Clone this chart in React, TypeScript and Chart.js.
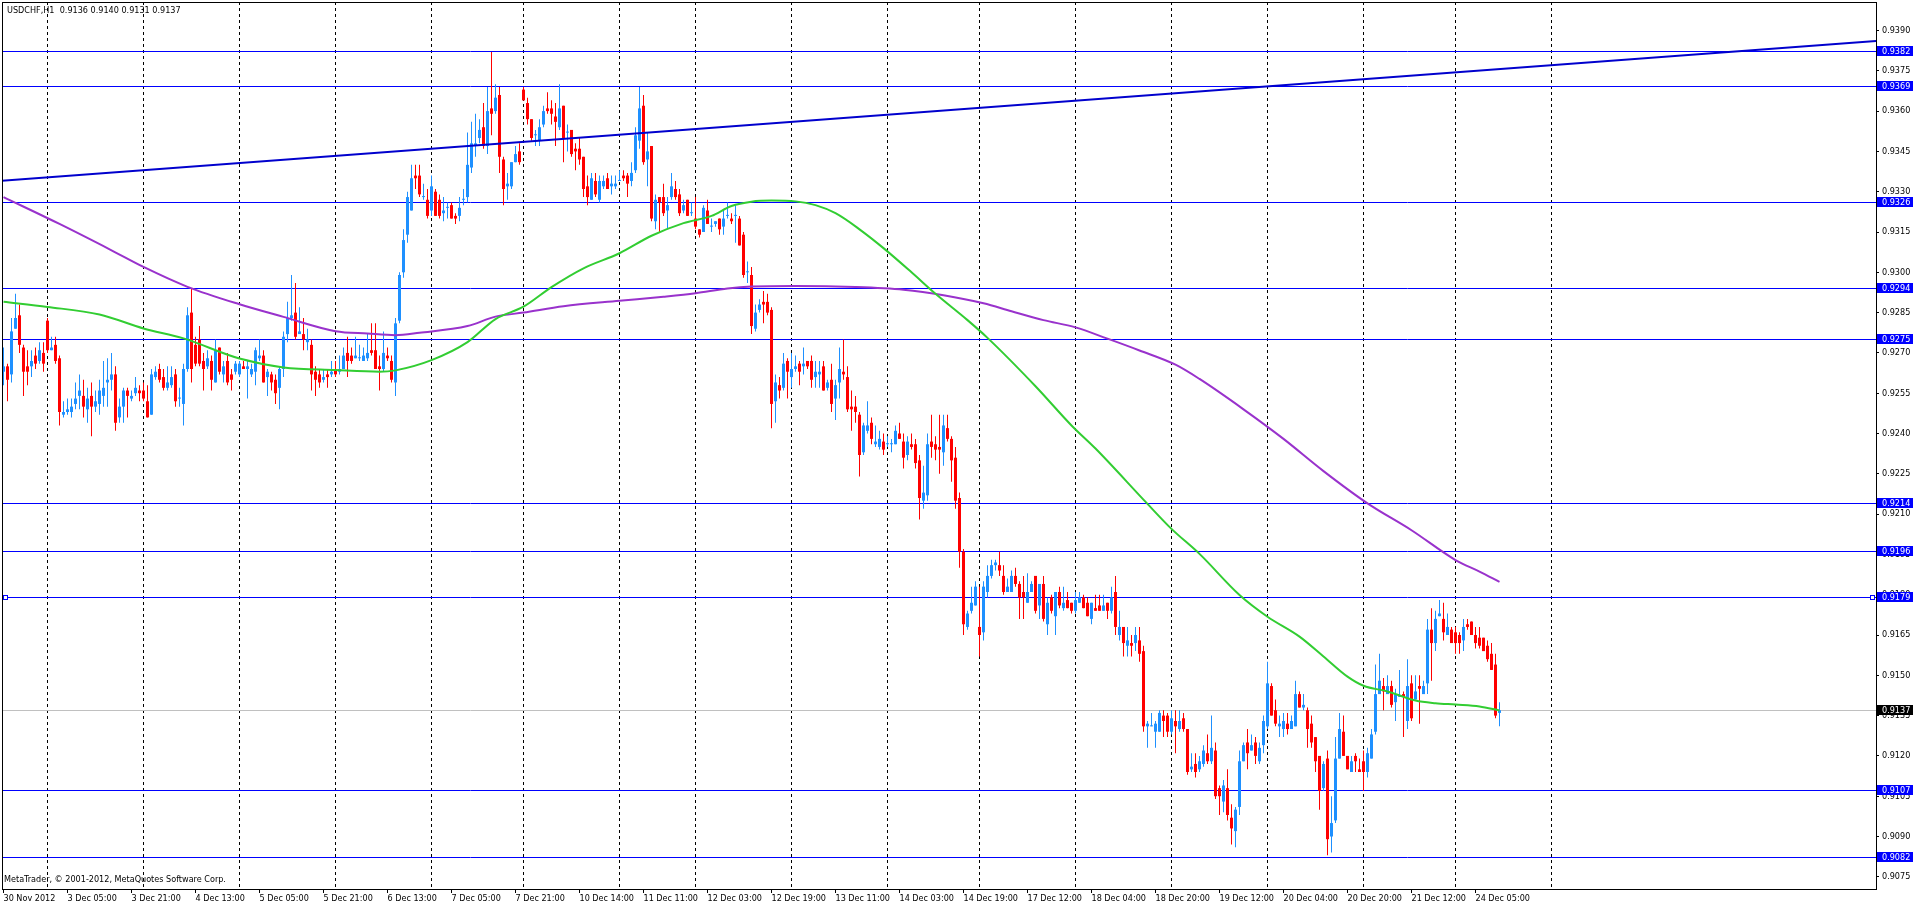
import { useEffect, useRef } from 'react';
import { Chart, registerables } from 'chart.js';

Chart.register(...registerables);

const FONT = '"DejaVu Sans Condensed", "DejaVu Sans", sans-serif';

const symbolTitle = 'USDCHF,H1  0.9136 0.9140 0.9131 0.9137';
const copyright = 'MetaTrader, \u00a9 2001-2012, MetaQuotes Software Corp.';

// hourly candles, prices in pips above 0.9000 (263 -> 0.9263)
const opens = [
  263,265,262,279,284,272,265,265,269,267,270,282,271,273,268,247,248,248,251,254,254,249,254,250,251,
  254,259,260,262,246,250,256,253,255,256,256,252,247,261,264,261,257,258,262,253,251,264,285,273,275,
  267,265,267,259,272,262,267,262,263,262,265,264,262,263,268,269,261,262,260,257,264,277,283,285,277,
  277,274,273,263,262,260,262,262,264,263,264,270,269,268,268,267,268,271,271,265,264,269,267,259,282,
  300,314,323,336,336,328,327,323,330,327,322,324,325,321,321,327,328,339,347,350,354,347,361,360,366,
  342,332,332,341,345,368,363,357,351,349,355,361,361,358,354,362,352,353,346,346,343,332,327,334,327,
  332,335,332,332,334,336,336,334,338,349,362,342,347,319,328,328,323,328,331,329,323,327,322,320,316,
  315,323,317,318,320,317,321,320,321,320,314,300,299,279,286,289,289,286,252,258,257,267,261,264,266,
  265,267,267,261,262,265,257,260,253,259,263,261,250,250,247,233,241,244,236,235,237,236,236,236,240,
  237,232,236,236,230,215,217,237,236,235,233,242,238,231,216,196,168,174,176,168,166,181,187,191,191,
  187,181,181,187,184,181,177,181,187,176,184,169,179,172,181,175,178,177,174,177,179,177,171,175,176,
  174,177,174,181,165,168,161,162,162,163,159,131,131,129,129,135,135,129,133,130,134,130,115,117,115,
  117,121,118,122,108,103,108,97,92,101,118,125,122,125,118,124,131,146,137,131,130,132,130,131,143,
  138,137,132,127,120,108,119,90,96,119,129,120,114,120,115,118,114,119,129,143,146,143,146,140,142,
  143,133,147,141,146,143,147,167,162,172,171,165,167,166,165,163,169,170,165,164,164,161,158,154,136,
];
const highs = [
  272,266,283,292,288,273,271,271,272,274,274,283,276,276,269,252,253,253,259,262,260,257,259,256,260,
  267,268,270,265,253,257,257,256,261,258,259,258,264,265,266,264,265,265,264,257,266,287,294,276,280,
  270,271,269,275,272,267,270,264,267,267,267,267,266,272,275,271,264,263,262,265,278,289,299,296,287,
  283,279,275,265,264,264,264,267,267,269,272,276,272,276,273,272,277,281,281,269,278,272,269,283,300,
  316,330,340,340,340,333,331,336,331,329,328,326,326,322,328,331,352,356,359,357,363,369,382,370,369,
  343,337,341,347,348,369,365,357,353,357,362,367,364,363,370,362,355,353,348,350,343,336,337,337,336,
  336,337,336,336,338,338,337,341,354,369,366,352,347,329,328,333,328,337,334,331,327,327,326,328,316,
  325,327,320,319,320,323,326,322,325,321,315,304,302,288,290,293,292,287,262,261,270,268,270,269,267,
  272,267,269,267,267,267,260,266,260,272,275,265,256,254,248,244,252,246,243,241,240,239,238,243,244,
  240,239,240,238,232,228,240,247,239,247,247,247,239,235,218,197,174,183,185,183,185,191,193,193,196,
  191,186,189,190,185,187,188,185,187,184,187,179,180,181,183,183,181,177,181,181,180,179,177,180,180,
  180,177,183,187,174,168,168,165,168,168,161,133,136,133,137,137,136,137,137,137,136,130,121,121,120,
  124,128,135,125,109,111,115,102,101,122,125,130,128,127,125,135,155,147,141,135,136,136,135,148,144,
  143,138,135,127,120,118,122,105,127,136,135,120,120,121,119,122,123,130,154,158,149,150,148,145,152,
  144,156,150,150,150,148,171,175,174,178,177,173,168,168,166,171,171,170,168,168,164,163,162,158,140,
];
const lows = [
  258,252,259,279,270,254,258,261,264,266,263,270,271,266,243,246,247,246,249,249,246,244,239,248,247,
  250,250,256,241,244,244,246,252,254,252,252,246,247,260,259,256,256,257,250,250,243,263,259,265,265,
  256,264,256,259,262,259,258,256,262,261,264,253,261,258,267,259,254,256,251,249,261,274,282,275,277,
  271,271,256,254,257,259,257,261,261,262,264,261,266,268,267,267,267,269,264,256,263,267,259,254,281,
  298,311,323,331,328,327,320,321,321,320,319,320,320,318,319,325,326,337,343,348,346,344,351,359,337,
  325,327,331,341,340,364,355,349,347,347,354,359,355,347,353,341,345,343,338,340,328,325,327,328,326,
  331,331,329,331,334,334,328,332,337,346,340,332,319,316,315,321,316,327,327,321,322,321,321,316,313,
  315,318,315,317,314,314,320,318,311,310,298,296,277,278,285,281,284,242,244,253,256,253,257,263,258,
  262,264,257,257,257,256,256,248,245,253,260,248,241,244,224,232,240,236,235,234,232,235,233,236,238,
  227,230,234,227,208,212,215,231,230,225,228,237,222,212,190,165,167,173,176,157,163,179,186,189,187,
  180,181,181,183,171,171,177,181,173,171,170,165,173,165,175,174,175,173,173,177,175,172,169,174,174,
  174,171,173,165,163,157,157,157,159,155,129,123,131,123,129,127,127,128,121,129,129,113,114,112,114,
  116,117,117,104,98,99,96,87,86,98,118,115,122,117,117,121,130,135,131,127,127,128,130,131,138,
  137,123,123,114,100,107,83,84,95,119,120,115,114,114,114,107,112,119,128,143,137,143,138,133,142,
  127,130,133,141,132,143,143,148,159,172,163,165,162,158,158,159,167,165,160,160,159,155,152,134,131,
];
const closes = [
  265,260,278,283,273,263,263,267,266,271,266,271,272,267,248,248,249,250,253,256,250,253,250,252,256,
  257,260,262,244,250,256,254,254,257,255,253,246,262,263,260,257,259,261,252,253,264,284,264,266,266,
  264,268,260,271,263,265,259,260,266,266,264,265,264,271,269,259,263,259,255,264,276,283,284,276,278,
  275,275,262,260,259,261,261,263,262,264,269,267,267,269,268,269,270,270,264,264,270,268,260,281,299,
  312,328,335,335,329,328,321,332,321,321,323,324,320,320,324,327,340,348,348,353,347,360,359,365,343,
  331,333,341,344,341,364,357,350,351,354,360,360,359,356,361,350,352,344,345,342,331,328,335,329,334,
  334,331,333,333,334,335,333,337,351,361,341,345,320,327,326,322,325,332,328,322,325,321,322,317,314,
  324,318,317,319,316,320,321,319,321,310,299,300,280,285,288,288,285,251,259,256,266,263,264,265,263,
  266,265,260,263,263,256,259,251,258,264,262,249,249,248,232,243,243,238,237,238,234,236,236,241,238,
  231,237,235,229,216,218,236,235,234,234,243,238,230,215,196,169,173,177,183,165,183,187,191,192,189,
  181,183,187,184,179,179,181,184,174,184,171,177,174,181,176,177,175,174,178,179,175,172,177,174,174,
  176,174,179,168,168,162,163,161,165,158,131,132,131,132,136,133,129,134,131,133,130,114,116,114,118,
  122,118,123,105,105,109,98,93,100,118,124,121,124,120,123,133,147,135,132,132,133,130,133,143,138,
  139,130,125,118,107,117,89,95,119,130,120,115,118,118,114,114,121,128,143,148,144,146,139,143,142,
  142,146,134,144,145,146,167,162,171,173,166,168,162,162,162,168,168,165,162,161,159,156,152,135,137,
];

// time axis labels, one every 16 bars
const timeLabelBars = [0, 16, 32, 48, 64, 80, 96, 112, 128, 144, 160, 176, 192, 208, 224, 240, 256, 272, 288, 304, 320, 336, 352, 368];
const timeLabels = [
  '30 Nov 2012', '3 Dec 05:00', '3 Dec 21:00', '4 Dec 13:00', '5 Dec 05:00', '5 Dec 21:00',
  '6 Dec 13:00', '7 Dec 05:00', '7 Dec 21:00', '10 Dec 14:00', '11 Dec 11:00', '12 Dec 03:00',
  '12 Dec 19:00', '13 Dec 11:00', '14 Dec 03:00', '14 Dec 19:00', '17 Dec 12:00', '18 Dec 04:00',
  '18 Dec 20:00', '19 Dec 12:00', '20 Dec 04:00', '20 Dec 20:00', '21 Dec 12:00', '24 Dec 05:00',
];
// dashed day separators
const dayStartBars = [11, 35, 59, 83, 107, 130, 154, 173, 197, 221, 244, 268, 292, 316, 340, 363, 387];

// price axis
const priceTicks = [75, 90, 105, 120, 135, 150, 165, 180, 195, 210, 225, 240, 255, 270, 285, 300, 315, 330, 345, 360, 375, 390];
const priceMin = 70.46;
const priceMax = 400.61;

// moving averages
const greenMaBars = [0, 11, 24, 35, 45, 59, 70, 83, 94, 98, 107, 116, 123, 130, 137, 145, 154, 162, 170, 177, 182, 187, 192, 198, 203, 208, 214, 220, 227, 233, 241, 246, 258, 267, 273, 286, 292, 299, 309, 316, 324, 330, 336, 340, 346, 353, 358, 363, 369, 374];
const greenMaPips = [289.0, 287.1, 284.3, 279.1, 275.4, 267.9, 264.6, 263.6, 263.0, 263.5, 267.3, 274.0, 282.6, 287.2, 294.5, 301.5, 307.1, 313.6, 318.3, 321.0, 324.7, 326.3, 326.7, 326.4, 325.0, 322.0, 316.0, 309.0, 300.0, 292.0, 282.2, 275.6, 257.6, 243.0, 234.4, 213.8, 204.5, 195.2, 179.9, 171.8, 164.4, 157.0, 149.5, 146.1, 144.0, 140.6, 139.6, 139.1, 138.4, 136.9];
const purpleMaBars = [0, 14, 27, 35, 46, 59, 70, 83, 91, 98, 104, 116, 123, 130, 140, 154, 165, 173, 181, 187, 198, 213, 225, 235, 245, 252, 260, 268, 276, 284, 293, 299, 310, 320, 330, 341, 352, 363, 369, 374];
const purpleMaPips = [328, 318, 308.2, 302, 294.6, 288.1, 283.4, 278.1, 277.2, 276.6, 277.5, 280.0, 283.5, 285.0, 287.4, 289.4, 290.9, 292.2, 294.0, 294.7, 294.9, 294.5, 293.5, 291.5, 288.5, 285.5, 282.2, 279.5, 275.3, 270.9, 265.6, 260.3, 249, 238, 226, 214, 204, 192.9, 188.6, 184.8];

// trend line and horizontal levels
const trendBars = [-1, 469];
const trendPips = [334.0, 386.2];
const levelPips = [382, 369, 326, 294, 275, 214, 196, 179, 107, 82];
const selectedLevel = 179;
const lastPips = 137;

const price = (p: number) => 0.9 + p / 10000;
const label = (p: number) => price(p).toFixed(4);

const BULL = '#1E90FF';
const BEAR = '#FF0000';

const mt4Plugin = {
  id: 'mt4',
  beforeDatasetsDraw(chart: any) {
    const { ctx, chartArea: a, scales } = chart;
    const x = scales.x;
    const y = scales.y;
    ctx.save();
    ctx.beginPath();
    ctx.rect(a.left, a.top, a.right - a.left, a.bottom - a.top);
    ctx.clip();
    ctx.lineWidth = 1;
    ctx.strokeStyle = '#000000';
    ctx.setLineDash([3, 3]);
    dayStartBars.forEach((b) => {
      const xp = Math.floor(x.getPixelForValue(b)) + 0.5;
      ctx.beginPath();
      ctx.moveTo(xp, a.top);
      ctx.lineTo(xp, a.bottom);
      ctx.stroke();
    });
    ctx.setLineDash([]);
    const hline = (p: number, color: string) => {
      const yp = Math.floor(y.getPixelForValue(price(p))) + 0.5;
      ctx.strokeStyle = color;
      ctx.beginPath();
      ctx.moveTo(a.left, yp);
      ctx.lineTo(a.right, yp);
      ctx.stroke();
    };
    hline(lastPips, '#C0C0C0');
    levelPips.forEach((p) => hline(p, '#0000FF'));
    ctx.restore();
  },
  afterDraw(chart: any) {
    const { ctx, chartArea: a, scales } = chart;
    const y = scales.y;
    ctx.save();
    ctx.lineWidth = 1;
    ctx.strokeStyle = '#000000';
    ctx.strokeRect(a.left + 0.5, a.top + 0.5, a.right - a.left, a.bottom - a.top);

    ctx.font = `9px ${FONT}`;
    ctx.textBaseline = 'middle';
    ctx.textAlign = 'left';
    const box = (p: number, bg: string) => {
      const yc = Math.floor(y.getPixelForValue(price(p)));
      ctx.fillStyle = bg;
      ctx.fillRect(a.right + 1, yc - 5, 36, 10);
      ctx.fillStyle = '#FFFFFF';
      ctx.fillText(label(p), a.right + 6, yc + 0.5);
    };
    levelPips.forEach((p) => box(p, '#0000FF'));
    box(lastPips, '#000000');

    // selection handles of the chosen level
    const ys = Math.floor(y.getPixelForValue(price(selectedLevel)));
    ctx.fillStyle = '#FFFFFF';
    ctx.strokeStyle = '#0000FF';
    [a.left + 1, a.right - 6].forEach((xs) => {
      ctx.fillRect(xs, ys - 2, 5, 5);
      ctx.strokeRect(xs + 0.5, ys - 1.5, 4, 4);
    });

    ctx.fillStyle = '#000000';
    ctx.fillText(symbolTitle, 7, 11);
    ctx.fillText(copyright, 4, 880);
    ctx.restore();
  },
};

export default function App() {
  const canvasRef = useRef<HTMLCanvasElement | null>(null);
  const chartRef = useRef<Chart | null>(null);

  useEffect(() => {
    if (!canvasRef.current) return;
    if (chartRef.current) chartRef.current.destroy();

    const colors = closes.map((c, i) => (c >= opens[i] ? BULL : BEAR));
    const font = { family: FONT, size: 9 };

    chartRef.current = new Chart(canvasRef.current, {
      type: 'bar',
      data: {
        datasets: [
          {
            type: 'line',
            label: 'Trend',
            data: trendBars.map((b, i) => ({ x: b, y: price(trendPips[i]) })),
            borderColor: '#0000CD',
            borderWidth: 2,
            pointRadius: 0,
            order: 0,
          },
          {
            type: 'line',
            label: 'MA fast',
            data: greenMaBars.map((b, i) => ({ x: b, y: price(greenMaPips[i]) })),
            borderColor: '#32CD32',
            borderWidth: 2,
            pointRadius: 0,
            cubicInterpolationMode: 'monotone',
            order: 1,
          },
          {
            type: 'line',
            label: 'MA slow',
            data: purpleMaBars.map((b, i) => ({ x: b, y: price(purpleMaPips[i]) })),
            borderColor: '#9932CC',
            borderWidth: 2,
            pointRadius: 0,
            cubicInterpolationMode: 'monotone',
            order: 1,
          },
          {
            type: 'bar',
            label: 'Bodies',
            data: opens.map((o, i) => ({ x: i, y: [price(o), price(closes[i])] })),
            backgroundColor: colors,
            barThickness: 3,
            minBarLength: 1,
            grouped: false,
            inflateAmount: 0,
            borderWidth: 0,
            order: 2,
          },
          {
            type: 'bar',
            label: 'Wicks',
            data: lows.map((l, i) => ({ x: i, y: [price(l), price(highs[i])] })),
            backgroundColor: colors,
            barThickness: 1,
            grouped: false,
            inflateAmount: 0,
            borderWidth: 0,
            order: 3,
          },
        ] as any,
      },
      options: {
        animation: false,
        responsive: false,
        events: [],
        layout: { padding: { left: 2, top: 2, right: 0, bottom: 0 } },
        plugins: { legend: { display: false }, tooltip: { enabled: false } },
        scales: {
          x: {
            type: 'linear',
            position: 'bottom',
            min: -0.375,
            max: 468.125,
            offset: false,
            grid: { drawOnChartArea: false, drawTicks: true, tickLength: 4, color: '#000000', offset: false },
            border: { display: false },
            ticks: {
              autoSkip: false,
              maxRotation: 0,
              minRotation: 0,
              align: 'start',
              padding: 0,
              color: '#000000',
              font,
              callback: (_v: any, i: number) => timeLabels[i],
            },
            afterBuildTicks: (s: any) => {
              s.ticks = timeLabelBars.map((v) => ({ value: v }));
            },
            afterFit: (s: any) => {
              s.height = 17;
              s.paddingLeft = 0;
              s.paddingRight = 0;
            },
          },
          y: {
            type: 'linear',
            position: 'right',
            min: price(priceMin),
            max: price(priceMax),
            grid: { drawOnChartArea: false, drawTicks: true, tickLength: 3, color: '#000000' },
            border: { display: false },
            ticks: {
              autoSkip: false,
              padding: 3,
              color: '#000000',
              font,
              callback: (v: any) => Number(v).toFixed(4),
            },
            afterBuildTicks: (s: any) => {
              s.ticks = priceTicks.map((p) => ({ value: price(p) }));
            },
            afterFit: (s: any) => {
              s.width = 38;
              s.paddingTop = 0;
              s.paddingBottom = 0;
            },
          },
        } as any,
      },
      plugins: [mt4Plugin],
    });

    return () => {
      chartRef.current?.destroy();
      chartRef.current = null;
    };
  }, []);

  return (
    <div style={{ position: 'absolute', left: 0, top: 0, width: 1914, height: 906, background: '#ffffff' }}>
      <canvas ref={canvasRef} width={1914} height={906} style={{ display: 'block' }} />
    </div>
  );
}
